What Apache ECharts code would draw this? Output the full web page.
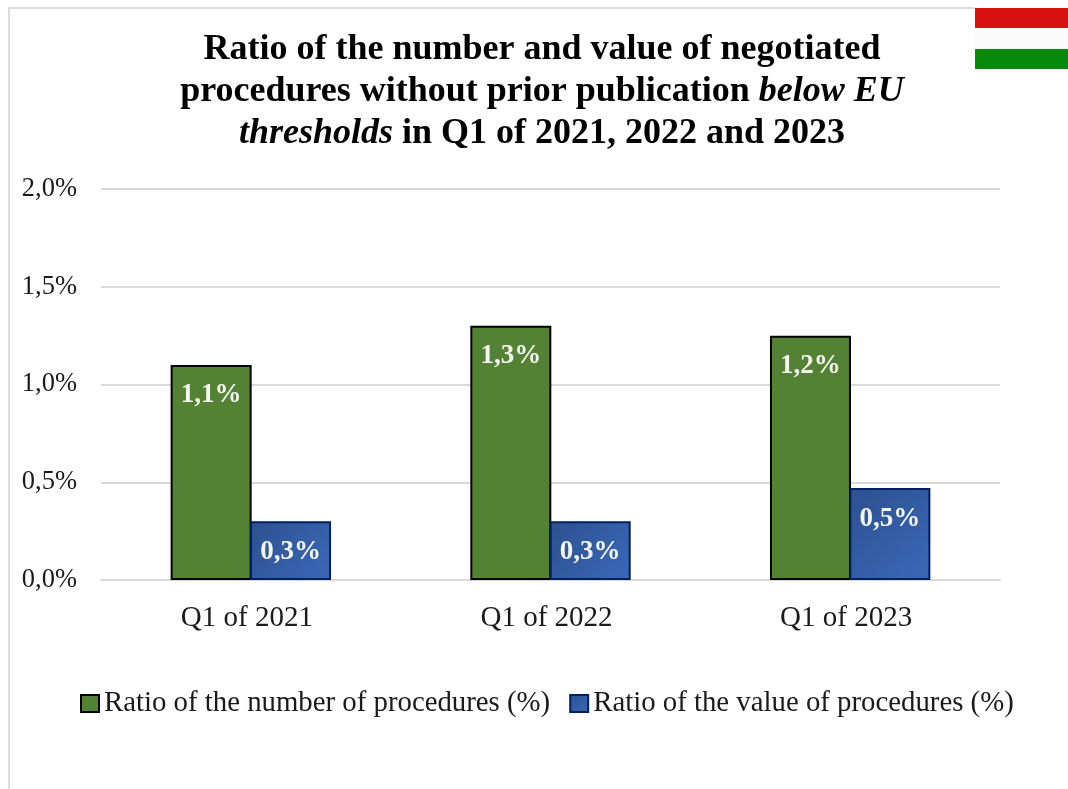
<!DOCTYPE html>
<html><head><meta charset="utf-8">
<style>html,body{margin:0;padding:0;background:#fff}#c{width:1068px;height:789px}</style>
<script src="https://cdn.jsdelivr.net/npm/echarts@6/dist/echarts.min.js"></script>
</head><body><div id="c"></div>
<script>
const categories = ['Q1 of 2021', 'Q1 of 2022', 'Q1 of 2023'];
const numberRatio = [1.1, 1.3, 1.25];
const valueRatio = [0.3, 0.3, 0.47];
const numberLabels = ['1,1%', '1,3%', '1,2%'];
const valueLabels = ['0,3%', '0,3%', '0,5%'];
const seriesNames = ['Ratio of the number of procedures (%)', 'Ratio of the value of procedures (%)'];
const FONT = '"Liberation Serif", serif';
const blue = {type:'linear',x:0,y:0,x2:1,y2:1,colorStops:[{offset:0,color:'#2c5191'},{offset:1,color:'#3b68b8'}]};
const chart = echarts.init(document.getElementById('c'), null, {renderer:'canvas'});
const lbl = arr => ({show:true, position:'insideTop', distance:17, color:'#f4f7ef', fontFamily:FONT, fontSize:27, fontWeight:'bold',
  formatter:p => arr[p.dataIndex]});
chart.setOption({
  animation:false,
  backgroundColor:'#fff',
  title:{
    left:537, top:24, textAlign:'center',
    text:'{b|Ratio of the number and value of negotiated}\n{b|procedures without prior publication }{i|below EU}\n{i|thresholds}{b| in Q1 of 2021, 2022 and 2023}',
    textStyle:{rich:{
      b:{fontFamily:FONT,fontSize:36,fontWeight:'bold',color:'#000',lineHeight:42},
      i:{fontFamily:FONT,fontSize:36,fontWeight:'bold',fontStyle:'italic',color:'#000',lineHeight:42}
    }}
  },
  grid:{left:101,right:68,top:189,bottom:209,containLabel:false},
  legend:{
    left:75, top:684, itemGap:19, itemWidth:18, itemHeight:17,
    icon:'rect',
    textStyle:{fontFamily:FONT,fontSize:28.8,color:'#1a1a1a'},
    data:seriesNames
  },
  xAxis:{type:'category',data:categories,
    axisLine:{lineStyle:{color:'#d9d9d9',width:2}},axisTick:{show:false},
    axisLabel:{fontFamily:FONT,fontSize:29,color:'#1a1a1a',margin:24,padding:[0,8,0,0]}},
  yAxis:{type:'value',min:0,max:2,interval:0.5,
    axisLine:{show:false},axisTick:{show:false},
    splitLine:{lineStyle:{color:'#d9d9d9',width:2}},
    axisLabel:{fontFamily:FONT,fontSize:26.5,color:'#1a1a1a',margin:24,padding:[4,0,0,0],
      formatter:v => v.toFixed(1).replace('.',',')+'%'}},
  series:[
    {name:seriesNames[0],type:'bar',data:numberRatio,barWidth:81,barGap:'-2%',
     itemStyle:{color:'#548235',borderColor:'#000',borderWidth:2},label:lbl(numberLabels)},
    {name:seriesNames[1],type:'bar',data:valueRatio,barWidth:81,
     itemStyle:{color:blue,borderColor:'#002060',borderWidth:2},label:lbl(valueLabels)}
  ],
  graphic:[
    {type:'rect',silent:true,shape:{x:8,y:7,width:2,height:782},style:{fill:'#dcdcdc'}},
    {type:'rect',silent:true,shape:{x:8,y:7,width:967,height:2},style:{fill:'#dcdcdc'}},
    {type:'rect',silent:true,shape:{x:975,y:8,width:93,height:20},style:{fill:'#d8100f'}},
    {type:'rect',silent:true,shape:{x:975,y:28,width:93,height:21},style:{fill:'#fafafa'}},
    {type:'rect',silent:true,shape:{x:975,y:49,width:93,height:20},style:{fill:'#0a8a0a'}}
  ]
});
</script></body></html>
